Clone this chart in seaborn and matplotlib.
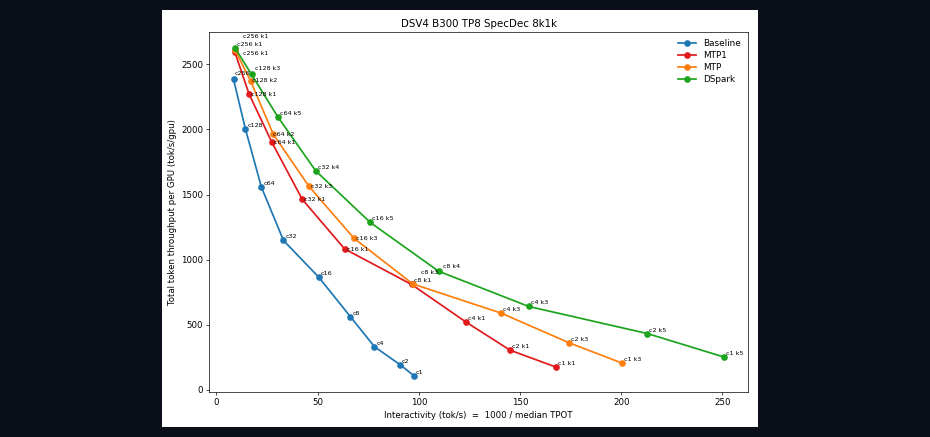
import pandas as pd
import matplotlib
matplotlib.use("Agg")
import matplotlib.pyplot as plt
from matplotlib.patches import Rectangle
import seaborn as sns

# values
baseline_x = [8.4, 14.3, 22.2, 33.1, 50.5, 66.1, 78.0, 90.6, 97.5]
baseline_y = [2386, 2003, 1557, 1148, 866, 564, 333, 195, 110]
baseline_labels = ["c256", "c128", "c64", "c32", "c16", "c8", "c4", "c2", "c1"]

mtp1_x = [9.0, 16.1, 27.3, 42.4, 63.3, 96.4, 123.4, 145.1, 167.5]
mtp1_y = [2597, 2272, 1903, 1463, 1083, 810, 520, 305, 177]
mtp1_labels = ["c256 k1", "c128 k1", "c64 k1", "c32 k1", "c16 k1", "c8 k1", "c4 k1", "c2 k1", "c1 k1"]

mtp_x = [9.2, 16.8, 28.1, 45.6, 67.9, 97.0, 140.8, 174.4, 200.2]
mtp_y = [2610, 2374, 1962, 1565, 1165, 814, 589, 361, 207]
mtp_labels = ["c256 k1", "c128 k2", "c64 k2", "c32 k3", "c16 k3", "c8 k3", "c4 k3", "c2 k3", "c1 k3"]

dspark_x = [9.3, 17.3, 30.3, 49.0, 76.0, 109.7, 154.3, 212.9, 250.5]
dspark_y = [2623, 2423, 2097, 1683, 1286, 912, 641, 433, 254]
dspark_labels = ["c256 k1", "c128 k3", "c64 k5", "c32 k4", "c16 k5", "c8 k4", "c4 k3", "c2 k5", "c1 k5"]

series_names = ["Baseline", "MTP1", "MTP", "DSpark"]
colors = {"Baseline": "#1f77b4", "MTP1": "#e31a1c", "MTP": "#ff7f0e", "DSpark": "#1ca41c"}

# label offsets in pixels (right, up); anything not listed uses the default
default_offset = (2, 3.5)
label_offsets = {
    ("Baseline", "c256"): (1, 6),
    ("MTP1", "c256 k1"): (8.5, -2),
    ("MTP1", "c128 k1"): (2, 0),
    ("MTP1", "c64 k1"): (2, 0),
    ("MTP1", "c32 k1"): (2, 0),
    ("MTP1", "c16 k1"): (2.5, -1),
    ("MTP", "c256 k1"): (8, 13.5),
    ("MTP", "c128 k2"): (1, 0),
    ("MTP", "c64 k2"): (0, 0),
    ("MTP", "c32 k3"): (2.5, 0),
    ("MTP", "c16 k3"): (2.5, 0),
    ("MTP", "c8 k3"): (8, 11),
    ("DSpark", "c128 k3"): (3, 5.5),
    ("DSpark", "c8 k4"): (4, 4.5),
}

frames = []
for name, xs, ys, labs in [("Baseline", baseline_x, baseline_y, baseline_labels),
                           ("MTP1", mtp1_x, mtp1_y, mtp1_labels),
                           ("MTP", mtp_x, mtp_y, mtp_labels),
                           ("DSpark", dspark_x, dspark_y, dspark_labels)]:
    frames.append(pd.DataFrame({"x": xs, "y": ys, "label": labs, "series": name}))
df = pd.concat(frames, ignore_index=True)

fig = plt.figure(figsize=(9.3, 4.37), dpi=100, facecolor="#0b0f19")
fig.add_artist(Rectangle((162 / 930, 10 / 437), 596 / 930, 417 / 437,
                         transform=fig.transFigure, facecolor="white",
                         edgecolor="none", zorder=-5))
ax = fig.add_axes([209 / 930, 45 / 437, 539 / 930, 360 / 437])

sns.lineplot(data=df, x="x", y="y", hue="series", hue_order=series_names,
             palette=colors, sort=False, estimator=None, marker="o",
             markersize=4.8, markeredgewidth=0, linewidth=1.25, ax=ax)

for _, row in df.iterrows():
    dx, dy = label_offsets.get((row["series"], row["label"]), default_offset)
    ax.annotate(row["label"], (row["x"], row["y"]), xytext=(dx, dy),
                textcoords="offset pixels", ha="left", va="center",
                fontsize=4.6, color="black")

ax.set_title("DSV4 B300 TP8 SpecDec 8k1k", fontsize=7.4, pad=3.8)
ax.set_xlabel("Interactivity (tok/s)  =  1000 / median TPOT", fontsize=6.2, labelpad=2.5)
ax.set_ylabel("Total token throughput per GPU (tok/s/gpu)", fontsize=6.2, labelpad=2.5)
ax.tick_params(labelsize=6.2, length=2.2, width=0.5, pad=2.2)
for sp in ax.spines.values():
    sp.set_linewidth(0.5)

leg = ax.legend(loc="upper right", frameon=False, fontsize=6.4,
                handlelength=2.0, labelspacing=0.35, borderaxespad=0.4)
for h in leg.legend_handles:
    h.set_markersize(4.8)
    h.set_linewidth(1.25)

fig.savefig("out.png", dpi=100, facecolor=fig.get_facecolor())
